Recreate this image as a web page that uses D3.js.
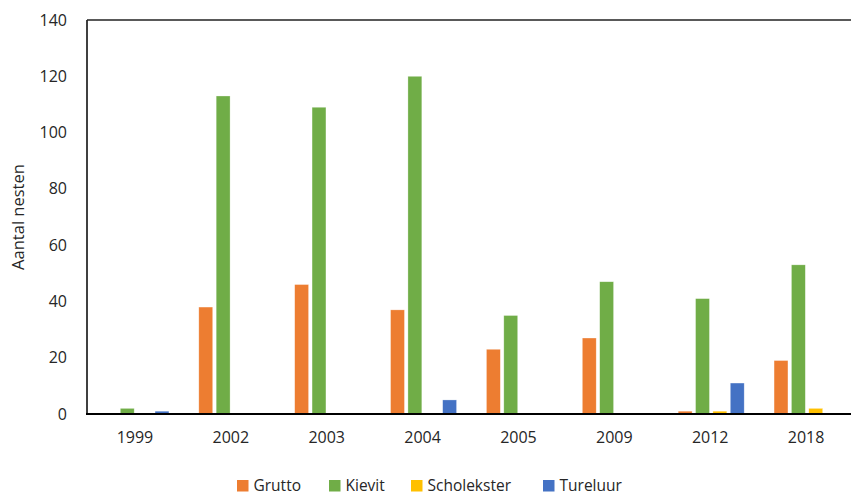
<!DOCTYPE html>
<html>
<head>
<meta charset="utf-8">
<script src="https://cdn.jsdelivr.net/npm/d3@7"></script>
<style>
  html, body { margin: 0; padding: 0; background: #fff; }
  svg { display: block; }
  text { font-family: "Open Sans", "Liberation Sans", sans-serif; fill: #262626; }
</style>
</head>
<body>
<svg id="chart" width="851" height="495"></svg>
<script>
// Nest counts per year and species
const years = ["1999", "2002", "2003", "2004", "2005", "2009", "2012", "2018"];
const species = ["Grutto", "Kievit", "Scholekster", "Tureluur"];
const grutto      = [0, 38, 46, 37, 23, 27, 1, 19];
const kievit      = [2, 113, 109, 120, 35, 47, 41, 53];
const scholekster = [0, 0, 0, 0, 0, 0, 1, 2];
const tureluur    = [1, 0, 0, 5, 0, 0, 11, 0];
const yTicks = [0, 20, 40, 60, 80, 100, 120, 140];
const colors = ["#ED7D31", "#70AD47", "#FFC000", "#4472C4"];

const seriesValues = [grutto, kievit, scholekster, tureluur];

const svg = d3.select("#chart");
const margin = { left: 87, right: -3, top: 20, bottom: 81 };
const W = 851, H = 495;
const plotW = W - margin.left - margin.right;
const plotH = H - margin.top - margin.bottom;

const x = d3.scaleBand().domain(years).range([margin.left, margin.left + plotW]);
const y = d3.scaleLinear().domain([0, 140]).range([margin.top + plotH, margin.top]);

// Bars sit in the middle of each year band
const groupW = 66;
const xs = d3.scaleBand().domain(species).range([0, groupW]).paddingInner(0.2);

const g = svg.append("g");
years.forEach((yr, i) => {
  const gx = x(yr) + x.bandwidth() / 2 - groupW / 2 + 1;
  species.forEach((sp, j) => {
    const v = seriesValues[j][i];
    if (v <= 0) return;
    g.append("rect")
      .attr("x", gx + xs(sp))
      .attr("width", xs.bandwidth())
      .attr("y", y(v))
      .attr("height", y(0) - y(v))
      .attr("fill", colors[j])
      .attr("stroke", "#fff")
      .attr("stroke-opacity", 0.5)
      .attr("stroke-width", 0.6);
  });
});

// Y axis labels
const yAxis = d3.axisLeft(y).tickValues(yTicks).tickSize(0).tickPadding(20);
const ya = svg.append("g").attr("transform", `translate(${margin.left},0)`).call(yAxis);
ya.select(".domain").remove();
ya.selectAll("text").attr("font-size", 16).style("font-family", "Open Sans, sans-serif").attr("fill", "#262626");

// X axis labels
const xAxis = d3.axisBottom(x).tickSize(0).tickPadding(18);
const xa = svg.append("g").attr("transform", `translate(0,${margin.top + plotH})`).call(xAxis);
xa.select(".domain").remove();
xa.selectAll("text").attr("font-size", 16).style("font-family", "Open Sans, sans-serif").attr("fill", "#262626");

// Frame lines: left axis, bottom axis, top border
svg.append("line").attr("x1", margin.left).attr("x2", margin.left)
  .attr("y1", margin.top).attr("y2", margin.top + plotH)
  .attr("stroke", "#000").attr("stroke-width", 1.5);
svg.append("line").attr("x1", margin.left - 1).attr("x2", W)
  .attr("y1", margin.top + plotH).attr("y2", margin.top + plotH)
  .attr("stroke", "#000").attr("stroke-width", 2);
svg.append("line").attr("x1", margin.left).attr("x2", W)
  .attr("y1", margin.top).attr("y2", margin.top)
  .attr("stroke", "#222").attr("stroke-width", 1.5);

// Y axis title
svg.append("text")
  .attr("transform", `translate(24,${margin.top + plotH / 2}) rotate(-90)`)
  .attr("text-anchor", "middle")
  .attr("font-size", 16.5)
  .text("Aantal nesten");

// Legend
const legendX = [237, 329, 411, 543];
const lg = svg.append("g");
species.forEach((sp, j) => {
  lg.append("rect").attr("x", legendX[j]).attr("y", 480).attr("width", 11.5).attr("height", 11.5).attr("fill", colors[j]);
  lg.append("text").attr("x", legendX[j] + 16.5).attr("y", 491).attr("font-size", 15.5).text(sp);
});
</script>
</body>
</html>
